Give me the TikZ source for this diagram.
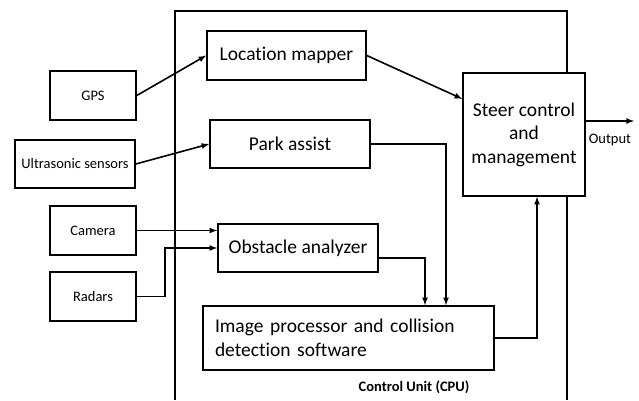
\documentclass[tikz,border=0pt]{standalone}
\usepackage{fontspec}
\setmainfont{Carlito}[Ligatures=NoCommon]
\usepackage{tikz}
\usetikzlibrary{arrows}

\begin{document}
\begin{tikzpicture}[
    x=1pt, y=-1pt,
    >=latex,
    line width=1.6pt,
    unit/.style={
		rectangle,
		draw=black,
		text centered,
		minimum width=160pt,
		minimum height=48pt,
		font=\fontsize{19.5}{23.5}\selectfont,
		fill=white
	},
	sensor/.style={
		rectangle,
		draw=black,
		text centered,
		minimum width=86pt,
		minimum height=49pt,
		font=\fontsize{14.5}{17}\selectfont
	},
	note/.style={
		font=\fontsize{14.5}{17}\selectfont
	}
  ]
  \useasboundingbox (0,0) rectangle (639,400);

  % control unit frame, open at the bottom
  \draw (175,400) |- (567,11) -- (567,400);
  \node [note, font=\fontsize{14.5}{17}\selectfont\bfseries] (cpulabel) at (414,387) {Control Unit (CPU)};

  % sensors
  \node [sensor] (gps) at (93,95.5) {GPS};
  \node [sensor, minimum width=120pt, minimum height=48pt] (ultra) at (75,164) {Ultrasonic sensors};
  \node [sensor] (camera) at (93,230.5) {Camera};
  \node [sensor] (radars) at (93,296.5) {Radars};

  % blocks inside the control unit
  \node [unit, minimum width=159pt, minimum height=49pt] (mapper) at (286.5,55.5) {Location mapper};
  \node [unit] (park) at (290,144) {Park assist};
  \node [unit] (obstacle) at (298,248) {Obstacle analyzer};
  \node [unit, minimum width=122pt, minimum height=123pt, align=center, inner sep=2pt] (steer) at (524,134.5)
 {Steer control\\and\\management};
  \node [unit, text width=267pt, inner xsep=12pt, minimum height=64pt, align=left] (imgproc) at (348.5,338)
 {Image processor and collision\\detection software};

  \coordinate (output) at (634,121);

  % connections
  \draw [->] (gps.east) -- (mapper.west);
  \draw [->] (ultra.east) -- (park.west);
  \draw [->] (mapper.east) -- (steer.150);
  \draw [->] (camera.east) -- (camera.east -| obstacle.west);
  \draw [->] (radars.east) -- ++(28,0) |- (obstacle.west);
  \draw [->] (park.east) -| ([xshift=97.5pt]imgproc.north);
  \draw [->] ([yshift=-10pt]obstacle.east) -| ([xshift=76.5pt]imgproc.north);
  \draw [->] (imgproc.east) -| ([xshift=13pt]steer.south);
  \draw [->] ([yshift=13.5pt]steer.east) -- node [note, below, yshift=-9pt] {Output} (output);

\end{tikzpicture}
\end{document}
